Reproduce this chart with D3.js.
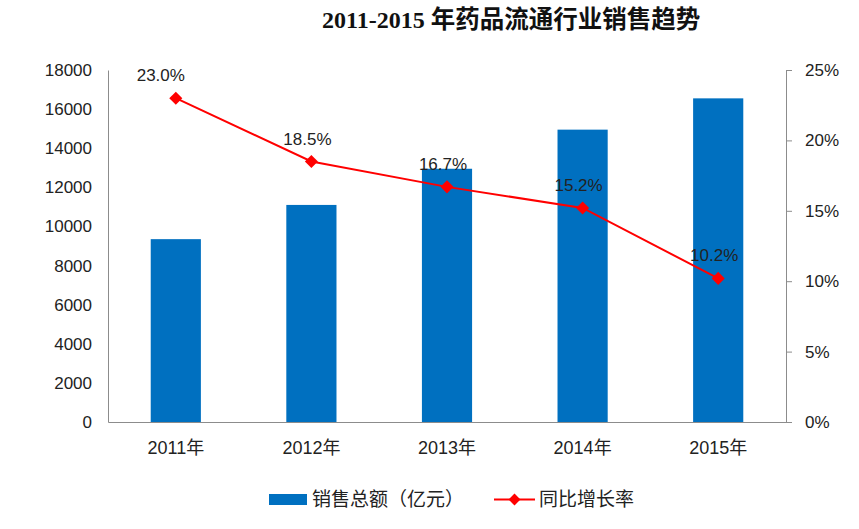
<!DOCTYPE html>
<html>
<head>
<meta charset="utf-8">
<script src="https://cdn.jsdelivr.net/npm/d3@7"></script>
<style>
  body { margin: 0; background: #fff; }
  text { font-family: "Liberation Sans", "Noto Sans CJK SC", sans-serif; }
</style>
</head>
<body>
<div id="root"></div>
<script>
const years = ["2011年", "2012年", "2013年", "2014年", "2015年"];
const sales = [9350, 11100, 12950, 14950, 16550];
const growth = [23.0, 18.5, 16.7, 15.2, 10.2];
const leftTicks = [0, 2000, 4000, 6000, 8000, 10000, 12000, 14000, 16000, 18000];
const rightTicks = [0, 5, 10, 15, 20, 25];

const width = 859, height = 529;
const margin = { left: 108, right: 73, top: 70, bottom: 107 };

const svg = d3.select("#root")
	.append("svg")
		.attr("width", width)
		.attr("height", height);

const x = d3.scaleBand()
	.domain(years)
	.range([margin.left, width - margin.right])
	.paddingInner(0.63)
	.paddingOuter(0.315);

const yL = d3.scaleLinear().domain([0, 18000]).range([height - margin.bottom, margin.top]);
const yR = d3.scaleLinear().domain([0, 25]).range([height - margin.bottom, margin.top]);

// title
const title = svg.append("text")
	.attr("x", 322)
	.attr("y", 28)
	.style("font-weight", "bold")
	.attr("fill", "#111");
title.append("tspan")
	.style("font-family", "\"Liberation Serif\", serif")
	.style("font-size", "24px")
	.text("2011-2015 ");
title.append("tspan")
	.style("font-family", "\"Noto Sans CJK SC\", sans-serif")
	.style("font-size", "24.5px")
	.text("年药品流通行业销售趋势");

// bars
svg.selectAll(".bar")
	.data(sales)
	.enter()
	.append("rect")
		.attr("class", "bar")
		.attr("x", (d, i) => x(years[i]))
		.attr("width", x.bandwidth())
		.attr("y", d => yL(d))
		.attr("height", d => yL(0) - yL(d))
		.attr("fill", "#0070C0");

// left axis
const leftAxis = svg.append("g")
	.attr("transform", `translate(${margin.left},0)`)
	.call(d3.axisLeft(yL).tickValues(leftTicks).tickSize(0).tickPadding(16).tickFormat(d3.format("d")));

// right axis
const rightAxis = svg.append("g")
	.attr("transform", `translate(${width - margin.right},0)`)
	.call(d3.axisRight(yR).tickValues(rightTicks).tickSize(6).tickPadding(13).tickFormat(d => d + "%"));

// bottom axis
const bottomAxis = svg.append("g")
	.attr("transform", `translate(0,${height - margin.bottom})`)
	.call(d3.axisBottom(x).tickSize(0).tickPadding(19));

[leftAxis, rightAxis, bottomAxis].forEach(a => {
	a.select(".domain").attr("stroke", "#8c8c8c");
	a.selectAll(".tick line").attr("stroke", "#8c8c8c");
	a.selectAll("text")
		.style("font-family", "\"Liberation Sans\", \"Noto Sans CJK SC\", sans-serif")
		.style("font-size", "17px")
		.attr("fill", "#222");
});
bottomAxis.selectAll("text").style("font-size", "18px");

// line
const cx = (d, i) => x(years[i]) + x.bandwidth() / 2;
const line = d3.line()
	.x(cx)
	.y(d => yR(d));

svg.append("path")
	.datum(growth)
	.attr("d", line)
	.attr("fill", "none")
	.attr("stroke", "#FF0000")
	.attr("stroke-width", 2);

svg.selectAll(".pt")
	.data(growth)
	.enter()
	.append("path")
		.attr("class", "pt")
		.attr("d", d3.symbol(d3.symbolSquare, 85))
		.attr("transform", (d, i) => `translate(${cx(d, i)},${yR(d)}) rotate(45)`)
		.attr("fill", "#FF0000");

svg.selectAll(".lbl")
	.data(growth)
	.enter()
	.append("text")
		.attr("class", "lbl")
		.attr("x", (d, i) => cx(d, i) - (i === 0 ? 15 : 4))
		.attr("y", d => yR(d) - 17)
		.attr("text-anchor", "middle")
		.style("font-size", "17px")
		.attr("fill", "#222")
		.text(d => d.toFixed(1) + "%");

// legend
const legend = svg.append("g");
legend.append("rect")
	.attr("x", 269).attr("y", 494)
	.attr("width", 38).attr("height", 11)
	.attr("fill", "#0070C0");
legend.append("text")
	.attr("x", 312).attr("y", 506)
	.style("font-family", "\"Noto Sans CJK SC\", sans-serif")
	.style("font-size", "19px")
	.attr("fill", "#222")
	.text("销售总额（亿元）");
legend.append("line")
	.attr("x1", 494).attr("x2", 535)
	.attr("y1", 499.5).attr("y2", 499.5)
	.attr("stroke", "#FF0000").attr("stroke-width", 2);
legend.append("path")
	.attr("d", d3.symbol(d3.symbolSquare, 70))
	.attr("transform", "translate(514.5,499.5) rotate(45)")
	.attr("fill", "#FF0000");
legend.append("text")
	.attr("x", 539).attr("y", 506)
	.style("font-family", "\"Noto Sans CJK SC\", sans-serif")
	.style("font-size", "19px")
	.attr("fill", "#222")
	.text("同比增长率");
</script>
</body>
</html>
